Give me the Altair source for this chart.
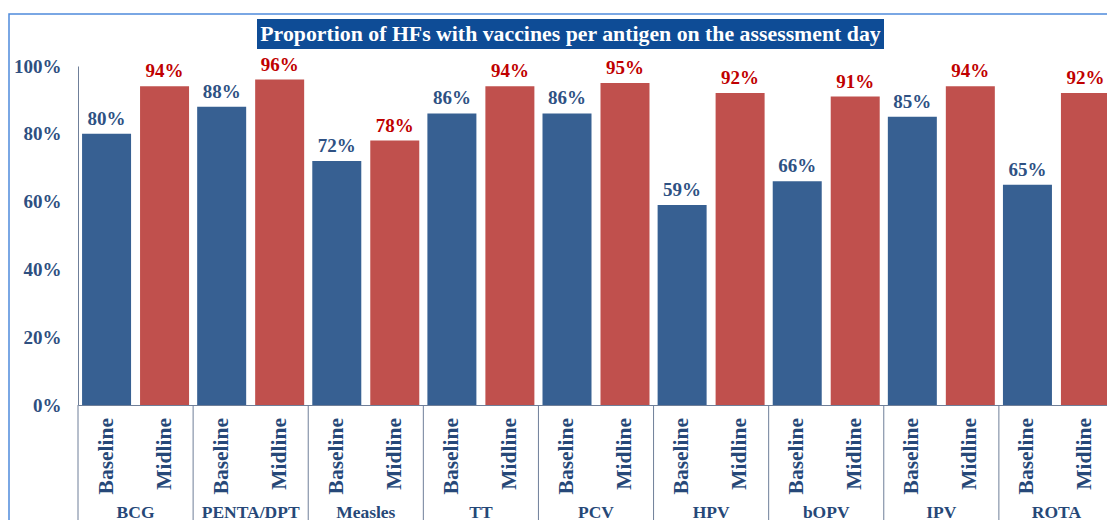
import altair as alt
import pandas as pd

groups = ["BCG", "PENTA/DPT", "Measles", "TT", "PCV", "HPV", "bOPV", "IPV", "ROTA"]
series = ["Baseline", "Midline"]
baseline = [80, 88, 72, 86, 86, 59, 66, 85, 65]
midline = [94, 96, 78, 94, 95, 92, 91, 94, 92]
y_ticks = [0, 20, 40, 60, 80, 100]
title_text = "Proportion of HFs with vaccines per antigen on the assessment day"

rows = []
for g, b, m in zip(groups, baseline, midline):
    rows.append({"group": g, "series": "Baseline", "value": b})
    rows.append({"group": g, "series": "Midline", "value": m})
df = pd.DataFrame(rows)
gdf = pd.DataFrame({"group": groups})
one = pd.DataFrame({"k": [0]})

FONT = "Liberation Serif"
NAVY = "#264878"
LINE = "#6F7F99"
W, H = 1036, 339

x_axis = alt.Axis(title=None, labelAngle=0, labelPadding=98, ticks=False,
                  domain=True, domainColor=LINE, domainWidth=1,
                  labelFont=FONT, labelFontSize=17.5, labelFontWeight="bold",
                  labelColor=NAVY)
x_scale = alt.Scale(paddingInner=0, paddingOuter=0)
x_enc = alt.X("group:N", sort=groups, scale=x_scale, axis=x_axis)
xo_enc = alt.XOffset("series:N", sort=series,
                     scale=alt.Scale(paddingInner=0.155, paddingOuter=0.07))
y_enc = alt.Y(
    "value:Q", scale=alt.Scale(domain=[0, 100], nice=False),
    axis=alt.Axis(title=None, values=y_ticks, labelExpr="datum.value + '%'",
                  grid=False, ticks=False, domain=True, domainColor=LINE,
                  labelPadding=17, labelFont=FONT, labelFontSize=19,
                  labelFontWeight="bold", labelColor="#2E4F80"),
)

base = alt.Chart(df)

bars = base.mark_bar().encode(
    x=x_enc, xOffset=xo_enc, y=y_enc,
    color=alt.Color("series:N", sort=series,
                    scale=alt.Scale(domain=series, range=["#376092", "#C0504D"]),
                    legend=None),
)

values = base.transform_calculate(label="datum.value + '%'").mark_text(
    baseline="bottom", dy=-5, font=FONT, fontSize=19, fontWeight="bold"
).encode(
    x=x_enc, xOffset=xo_enc, y=y_enc, text="label:N",
    color=alt.condition(alt.datum.series == "Baseline",
                        alt.value("#2E5183"), alt.value("#C00000")),
)

series_labels = base.mark_text(
    angle=270, align="right", baseline="middle", font=FONT, fontSize=21.5,
    fontWeight="bold", color=NAVY
).encode(
    x=x_enc, xOffset=xo_enc, y=alt.value(H + 13), text="series:N",
)

seps = alt.Chart(gdf).mark_rule(color=LINE, strokeWidth=1).encode(
    x=alt.X("group:N", sort=groups, bandPosition=0, scale=x_scale, axis=x_axis),
    y=alt.value(H), y2=alt.value(H + 200),
)

frame = alt.Chart(one).mark_rect(filled=False, stroke="#4F8ADB", strokeWidth=1.5).encode(
    x=alt.value(-69), x2=alt.value(W + 100), y=alt.value(-52), y2=alt.value(H + 300),
)

title_box = alt.Chart(one).mark_rect(color="#0E4C96").encode(
    x=alt.value(179), x2=alt.value(806), y=alt.value(-47), y2=alt.value(-17),
)
title = alt.Chart(one).mark_text(
    font=FONT, fontSize=21.8, fontWeight="bold", color="white",
    align="center", baseline="middle"
).encode(
    x=alt.value(492.5), y=alt.value(-32), text=alt.value(title_text),
)

chart = alt.layer(frame, bars, values, series_labels, seps, title_box, title).properties(
    width=W, height=H,
    padding={"left": 70, "top": 58, "right": -7, "bottom": 115},
    autosize=alt.AutoSizeParams(type="none"),
).configure_view(strokeWidth=0)

chart.save("out.html", embed_options={"renderer": "svg", "actions": False})
